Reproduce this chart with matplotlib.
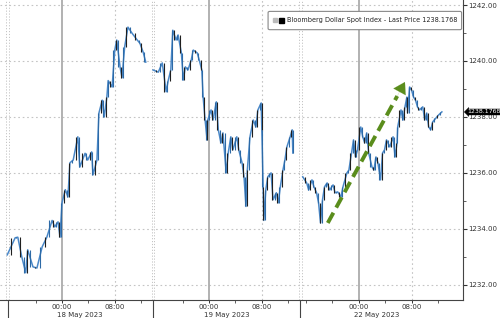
import matplotlib.pyplot as plt
import matplotlib.transforms as mtransforms
from matplotlib.patches import FancyBboxPatch
from matplotlib.ticker import FixedLocator, MultipleLocator, FormatStrFormatter
import numpy as np

# Hours relative to each session's own midnight, values = index level
day1_hours = [-8.3, -7.1, -6.7, -6.1, -5.5, -5.2, -4.4, -3.8, -3.0, -2.3, -1.5, -1.1,
              -0.6, -0.3, 0.0, 0.5, 0.9, 1.2, 1.7, 2.4, 2.7, 3.5, 3.9, 4.5, 4.7, 5.3,
              5.6, 6.1, 6.4, 6.8, 7.0, 7.6, 8.0, 8.3, 8.8, 9.1, 9.5, 10.0, 10.6, 11.4,
              11.8, 12.3, 12.7]
day1_values = [1233.07, 1233.68, 1233.70, 1233.00, 1232.43, 1233.25, 1232.64, 1232.60,
               1233.36, 1233.70, 1234.30, 1234.07, 1234.25, 1233.70, 1234.93, 1235.40,
               1235.14, 1236.36, 1236.46, 1237.29, 1236.21, 1236.70, 1236.46, 1236.75,
               1235.93, 1236.46, 1238.14, 1238.60, 1238.00, 1238.70, 1239.30, 1239.07,
               1240.39, 1240.75, 1239.79, 1239.40, 1240.50, 1241.21, 1241.00, 1240.75,
               1240.64, 1240.32, 1239.96]

day2_hours = [-8.5, -7.7, -7.1, -6.5, -6.2, -5.8, -5.5, -5.0, -4.7, -4.2, -3.9, -3.6,
              -3.2, -2.7, -2.4, -1.8, -1.5, -1.1, -0.9, -0.6, -0.3, -0.2, 0.3, 0.6,
              1.1, 1.4, 1.8, 2.1, 2.6, 2.9, 3.3, 3.6, 4.2, 4.5, 5.0, 5.3, 5.6, 5.8,
              6.2, 6.7, 7.1, 7.4, 7.9, 8.0, 8.2, 8.3, 8.6, 8.9, 9.4, 9.7, 10.2, 10.5,
              10.8, 11.2, 11.5, 11.8, 12.3, 12.6, 12.7]
day2_values = [1239.68, 1239.60, 1239.93, 1238.90, 1239.30, 1239.68, 1241.10, 1240.75,
               1240.93, 1240.29, 1239.32, 1239.79, 1239.68, 1240.04, 1240.39, 1240.29,
               1240.04, 1239.68, 1238.71, 1237.89, 1237.18, 1237.89, 1238.25, 1237.89,
               1238.54, 1237.54, 1237.07, 1237.43, 1236.00, 1236.71, 1237.29, 1236.82,
               1237.29, 1236.82, 1236.36, 1235.86, 1234.80, 1236.10, 1237.29, 1237.89,
               1237.64, 1238.25, 1238.50, 1237.54, 1235.50, 1234.30, 1235.40, 1235.86,
               1236.00, 1235.04, 1235.29, 1234.93, 1235.50, 1236.10, 1236.46, 1236.93,
               1237.29, 1237.54, 1236.71]

day3_hours = [-8.5, -7.9, -7.6, -7.1, -6.8, -6.4, -6.1, -5.8, -5.5, -5.2, -4.8, -4.4,
              -3.9, -3.6, -3.2, -2.7, -2.4, -1.8, -1.5, -1.1, -0.8, -0.5, -0.2, 0.3,
              0.6, 0.9, 1.2, 1.5, 2.0, 2.3, 2.6, 2.9, 3.3, 3.6, 3.9, 4.2, 4.7, 5.2,
              5.5, 5.8, 5.9, 6.4, 6.7, 7.0, 7.3, 7.4, 7.7, 8.0, 8.3, 8.6, 8.9, 9.2,
              9.7, 10.0, 10.3, 10.6, 10.9, 11.2, 11.7, 12.1, 12.6]
day3_values = [1235.86, 1235.64, 1235.39, 1235.75, 1235.50, 1235.29, 1234.93, 1234.21,
               1235.04, 1235.50, 1235.64, 1235.39, 1235.57, 1235.29, 1235.32, 1235.14,
               1235.50, 1236.00, 1236.10, 1236.71, 1237.18, 1236.57, 1236.82, 1237.64,
               1237.29, 1237.07, 1237.43, 1236.71, 1236.21, 1236.10, 1236.57, 1236.36,
               1235.75, 1236.71, 1236.82, 1237.18, 1236.93, 1237.29, 1236.57, 1237.07,
               1237.64, 1238.25, 1237.89, 1238.36, 1238.71, 1238.14, 1239.07, 1238.96,
               1238.71, 1238.60, 1238.36, 1238.25, 1238.36, 1237.89, 1238.14, 1237.64,
               1237.54, 1237.82, 1237.96, 1238.07, 1238.18]

day_labels = ['18 May 2023', '19 May 2023', '22 May 2023']
last_price = 1238.1768

# compressed time axis: where each session's midnight sits, and where sessions start
day_midnight = [0.0, 22.3, 45.0]
session_start = [-8.2, 13.8, 36.1]

fig = plt.figure(figsize=(5.0, 3.18), dpi=100)
ax = fig.add_axes([0.0, 0.057, 0.926, 0.943])
ax.set_xlim(-9.4, 60.8)
ax.set_ylim(1231.46, 1242.18)

grid_c = '#c4c4c4'
# horizontal grid
for yv in range(1232, 1243, 2):
    ax.axhline(yv, color=grid_c, lw=0.8, ls=(0, (1.5, 2.5)), zorder=0)
# vertical lines
for m in day_midnight:
    ax.axvline(m, color='#ababab', lw=1.3, zorder=0)
    ax.axvline(m + 8, color=grid_c, lw=0.8, ls=(0, (1.5, 2.5)), zorder=0)
for s in session_start:
    ax.axvline(s - 0.22, color=grid_c, lw=0.7, ls=(0, (1.2, 1.8)), zorder=0)
    ax.axvline(s + 0.22, color=grid_c, lw=0.7, ls=(0, (1.2, 1.8)), zorder=0)

# price series, one session at a time
sessions = [(day1_hours, day1_values), (day2_hours, day2_values), (day3_hours, day3_values)]
for (hrs, vals), m in zip(sessions, day_midnight):
    x = np.array(hrs) + m
    v = np.array(vals)
    ax.plot(x, v, color='#4a88c8', lw=1.1, zorder=3)
    lo = np.minimum(v[:-1], v[1:])
    hi = np.maximum(v[:-1], v[1:])
    xm = (x[:-1] + x[1:]) / 2
    ax.vlines(xm[::2], lo[::2], hi[::2], color='#1f1f1f', lw=0.8, zorder=4)
    ax.vlines(xm[1::2], lo[1::2], hi[1::2], color='#2d6aa6', lw=0.8, zorder=4)

# green trend arrow
green = '#5a8d1c'
x0, y0 = day_midnight[2] - 4.7, 1234.21
x1, y1 = day_midnight[2] + 7.0, 1239.25
ax.plot([x0, x0 + (x1 - x0) * 0.9], [y0, y0 + (y1 - y0) * 0.9], color=green,
        lw=2.8, ls=(0, (3, 1.5)), solid_capstyle='butt', zorder=5)
ax.annotate('', xy=(x1, y1), xytext=(x0 + (x1 - x0) * 0.88, y0 + (y1 - y0) * 0.88),
            arrowprops=dict(arrowstyle='-|>,head_length=0.8,head_width=0.5',
                            color=green, lw=0.1, shrinkA=0, shrinkB=0), zorder=5)

# axes styling
for side in ['left', 'top']:
    ax.spines[side].set_visible(False)
ax.spines['right'].set_color('#444444')
ax.spines['bottom'].set_color('#444444')
ax.spines['right'].set_linewidth(0.8)
ax.spines['bottom'].set_linewidth(0.8)

ax.yaxis.tick_right()
ax.yaxis.set_major_locator(MultipleLocator(2))
ax.yaxis.set_minor_locator(MultipleLocator(1))
ax.yaxis.set_major_formatter(FormatStrFormatter('%.2f'))
ax.tick_params(axis='y', which='major', length=3, width=0.8, labelsize=5, pad=1,
               colors='#333333')
ax.tick_params(axis='y', which='minor', length=2, width=0.6, colors='#444444')

major_x = []
major_lbl = []
for m in day_midnight:
    major_x += [m, m + 8]
    major_lbl += ['00:00', '08:00']
minor_x = []
for m, s in zip(day_midnight, session_start):
    for h in range(-8, 16, 4):
        if m + h > s + 0.5 and h not in (0, 8) and m + h < 60.5:
            minor_x.append(m + h)
ax.xaxis.set_major_locator(FixedLocator(major_x))
ax.xaxis.set_minor_locator(FixedLocator(minor_x))
ax.set_xticklabels(major_lbl)
ax.tick_params(axis='x', which='major', length=2.5, width=0.7, labelsize=5, pad=0.5,
               colors='#333333')
ax.tick_params(axis='x', which='minor', length=2, width=0.6, colors='#444444')

xt = ax.get_xaxis_transform()
for s in session_start:
    ax.plot([s, s], [0, -0.06], transform=xt, color='#444444', lw=0.8, clip_on=False)
for m, lbl in zip(day_midnight, day_labels):
    ax.text(m + 2.7, -0.04, lbl, transform=xt, ha='center', va='top', fontsize=5,
            color='#333333')

# last price tag
ax.annotate(f'{last_price:.4f}', xy=(1.0, last_price),
            xycoords=mtransforms.blended_transform_factory(ax.transAxes, ax.transData),
            xytext=(3.2, 0), textcoords='offset points', ha='left', va='center',
            fontsize=4.5, color='white', annotation_clip=False,
            bbox=dict(boxstyle='larrow,pad=0.08', fc='black', ec='black', lw=0.3))

# legend box
box = FancyBboxPatch((0.583, 0.905), 0.41, 0.053, boxstyle='round,pad=0.004',
                     transform=ax.transAxes, fc='white', ec='#888888', lw=0.8, zorder=6)
ax.add_patch(box)
ax.plot([0.593], [0.932], marker='s', ms=2.2, color='#bbbbbb', transform=ax.transAxes,
        zorder=7, clip_on=False)
ax.plot([0.606], [0.932], marker='s', ms=3.6, color='black', transform=ax.transAxes,
        zorder=7, clip_on=False)
ax.text(0.619, 0.932, 'Bloomberg Dollar Spot Index - Last Price 1238.1768',
        transform=ax.transAxes, ha='left', va='center', fontsize=4.7, color='#222222',
        zorder=7)

fig.savefig('out.png', dpi=100, facecolor='white')
